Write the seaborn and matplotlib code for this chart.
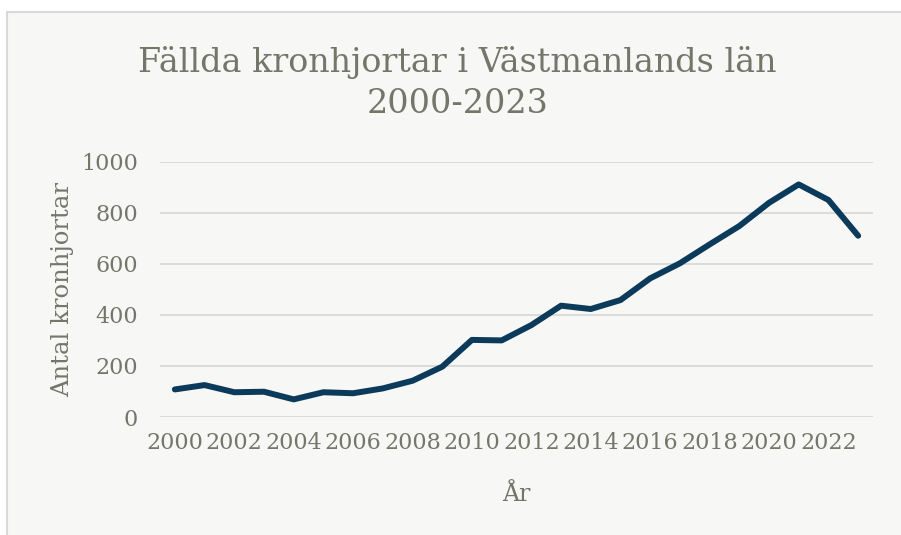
import numpy as np
import pandas as pd
import matplotlib
matplotlib.use('Agg')
import matplotlib.pyplot as plt
import seaborn as sns
from matplotlib.patches import Rectangle

# ── data ─────────────────────────────────────────────
years = list(range(2000, 2024))
antal = [108, 125, 97, 99, 69, 97, 93, 112, 142, 197,
         302, 300, 360, 436, 423, 458, 543, 602, 676, 748,
         839, 911, 850, 710]
yticks = [0, 200, 400, 600, 800, 1000]
xticks = list(range(2000, 2024, 2))

df = pd.DataFrame({'År': years, 'Antal': antal})

# ── style ────────────────────────────────────────────
sns.set_theme(style='white')
plt.rcParams['font.family'] = ['DejaVu Serif']
txt = '#75766a'
bg = '#f7f7f5'

fig = plt.figure(figsize=(9.01, 5.35), dpi=100)
fig.patch.set_facecolor('white')
fig.patches.append(Rectangle((7 / 901, -0.01), 1.0, (535 - 12) / 535 + 0.01,
                             transform=fig.transFigure, facecolor=bg,
                             edgecolor='#d9d9d9', linewidth=1.5, zorder=-10))

ax = fig.add_axes([160 / 901, (535 - 417) / 535, (873 - 160) / 901, (417 - 161.7) / 535])
ax.set_zorder(5)
ax.patch.set_alpha(0)

sns.lineplot(data=df, x='År', y='Antal', ax=ax, color='#0b3a5a', linewidth=4.3,
             solid_capstyle='round', solid_joinstyle='round')

ax.set_xlim(1999.5, 2023.5)
ax.set_ylim(0, 1000)
ax.set_yticks(yticks)
ax.set_xticks(xticks)
ax.set_xticklabels([str(x) for x in xticks])
for y in yticks:
    ax.axhline(y, color='#d9d9d9', linewidth=1.3, zorder=0)

for s in ax.spines.values():
    s.set_visible(False)
ax.tick_params(axis='both', length=0, labelsize=16, labelcolor=txt)
ax.tick_params(axis='x', pad=11)
ax.tick_params(axis='y', pad=16)

ax.set_xlabel('År', fontsize=17, color=txt, labelpad=21)
ax.set_ylabel('Antal kronhjortar', fontsize=17.5, color=txt, labelpad=5)

fig.text(0.508, 0.845, 'Fällda kronhjortar i Västmanlands län\n2000-2023',
         ha='center', va='center', fontsize=24, color=txt, linespacing=1.38)

plt.savefig('out.png', dpi=100, facecolor=fig.get_facecolor())
